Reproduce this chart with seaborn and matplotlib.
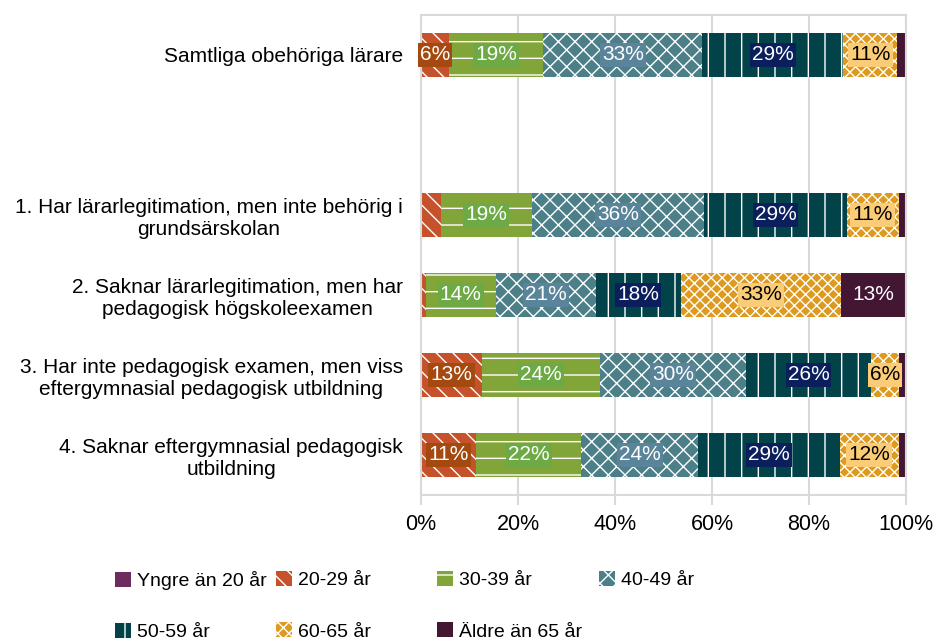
import matplotlib
matplotlib.use("Agg")
import matplotlib.pyplot as plt
from matplotlib.patches import Patch
import pandas as pd
import seaborn as sns

# Grupper (y-axel) och åldersgrupper (serier)
grupper = [
    "Samtliga obehöriga lärare",
    "1. Har lärarlegitimation, men inte behörig i\ngrundsärskolan",
    "2. Saknar lärarlegitimation, men har\npedagogisk högskoleexamen",
    "3. Har inte pedagogisk examen, men viss\neftergymnasial pedagogisk utbildning",
    "4. Saknar eftergymnasial pedagogisk\nutbildning",
]
aldersgrupper = [
    "Yngre än 20 år", "20-29 år", "30-39 år", "40-49 år",
    "50-59 år", "60-65 år", "Äldre än 65 år",
]

# Andel (%) per grupp, en lista per åldersgrupp
yngre_an_20 = [0.0, 0.0, 0.0, 0.0, 0.0]
ar_20_29 = [5.8, 4.1, 1.0, 12.6, 11.4]
ar_30_39 = [19.4, 18.7, 14.4, 24.4, 21.7]
ar_40_49 = [32.8, 35.6, 20.6, 30.0, 24.0]
ar_50_59 = [29.1, 29.4, 17.6, 25.8, 29.3]
ar_60_65 = [11.1, 10.7, 33.0, 5.7, 12.1]
aldre_an_65 = [1.8, 1.5, 13.4, 1.5, 1.5]

x_ticks = [0, 20, 40, 60, 80, 100]

# Utseende
farger = ["#6E2C5C", "#C5522B", "#82A53A", "#4C7F87", "#024349", "#DD9A1F", "#431634"]
monster = ["", "\\\\", "-", "xx", "|", "xxx", ""]
etikett_bg = [None, "#A4490F", "#6DAA45", "#5A8499", "#0A1F5C", "#FBCC77", None]
etikett_farg = ["white", "white", "white", "white", "white", "black", "white"]

serier = [yngre_an_20, ar_20_29, ar_30_39, ar_40_49, ar_50_59, ar_60_65, aldre_an_65]

# Lång tabell med start och slut för varje segment
rader = []
for i, grupp in enumerate(grupper):
    start = 0.0
    for alder, serie in zip(aldersgrupper, serier):
        varde = serie[i]
        rader.append({"grupp": grupp, "alder": alder, "andel": varde,
                      "start": start, "slut": start + varde})
        start += varde
df = pd.DataFrame(rader)

ordning = [grupper[0], " "] + grupper[1:]

sns.set_style("white")
plt.rcParams["font.family"] = ["Liberation Sans", "DejaVu Sans"]
plt.rcParams["hatch.linewidth"] = 1.0
plt.rcParams["text.color"] = "black"
plt.rcParams["xtick.labelcolor"] = "black"
plt.rcParams["ytick.labelcolor"] = "black"

fig = plt.figure(figsize=(9.34, 6.43), dpi=100)
ax = fig.add_axes([0.4507, 0.2302, 0.5193, 0.7465])

# Staplade staplar: rita kumulativa staplar bakifrån
for k in reversed(range(len(aldersgrupper))):
    del_df = df[df["alder"] == aldersgrupper[k]]
    sns.barplot(
        data=del_df, x="slut", y="grupp", order=ordning, orient="h",
        color=farger[k], saturation=1, width=0.55, errorbar=None,
        hatch=monster[k], edgecolor="white", linewidth=0, ax=ax,
    )

# Procentetiketter
for _, rad in df.iterrows():
    if rad["andel"] < 5:
        continue
    k = aldersgrupper.index(rad["alder"])
    ypos = ordning.index(rad["grupp"])
    bbox = None
    if etikett_bg[k] is not None:
        bbox = dict(facecolor=etikett_bg[k], edgecolor="none", pad=1.5)
    ax.text(rad["start"] + rad["andel"] / 2, ypos, f"{rad['andel']:.0f}%",
            ha="center", va="center", fontsize=15, color=etikett_farg[k],
            bbox=bbox, zorder=5)

ax.set_xlim(0, 100)
ax.set_xticks(x_ticks)
ax.set_xticklabels([f"{t}%" for t in x_ticks])
ax.set_xlabel("")
ax.set_ylabel("")
ax.grid(axis="x", color="#D9D9D9", linewidth=1.5)
ax.set_axisbelow(True)
for spine in ax.spines.values():
    spine.set_visible(True)
    spine.set_color("#D9D9D9")
    spine.set_linewidth(1.5)
ax.tick_params(axis="x", bottom=True, length=7, width=1.5, color="#D9D9D9",
               labelsize=15.5, labelcolor="black", pad=7)
ax.tick_params(axis="y", length=0, labelsize=15, labelcolor="black", pad=13)
for t in ax.get_yticklabels():
    t.set_multialignment("center")

# Förklaring: fyra kolumner med fasta positioner
kolumner = [[0, 4], [1, 5], [2, 6], [3]]
kol_x = [115, 276, 437, 599]
for kol, x in zip(kolumner, kol_x):
    handtag = [Patch(facecolor=farger[k], hatch=monster[k], edgecolor="white",
                     linewidth=0, label=aldersgrupper[k]) for k in kol]
    fig.legend(handles=handtag, loc="upper left",
               bbox_to_anchor=(x / 934, 1 - 571 / 643), frameon=False,
               fontsize=14, labelcolor="black", handlelength=0.82,
               handleheight=0.82, handletextpad=0.3, labelspacing=1.7,
               borderpad=0, borderaxespad=0)

fig.savefig("out.png", dpi=100)
